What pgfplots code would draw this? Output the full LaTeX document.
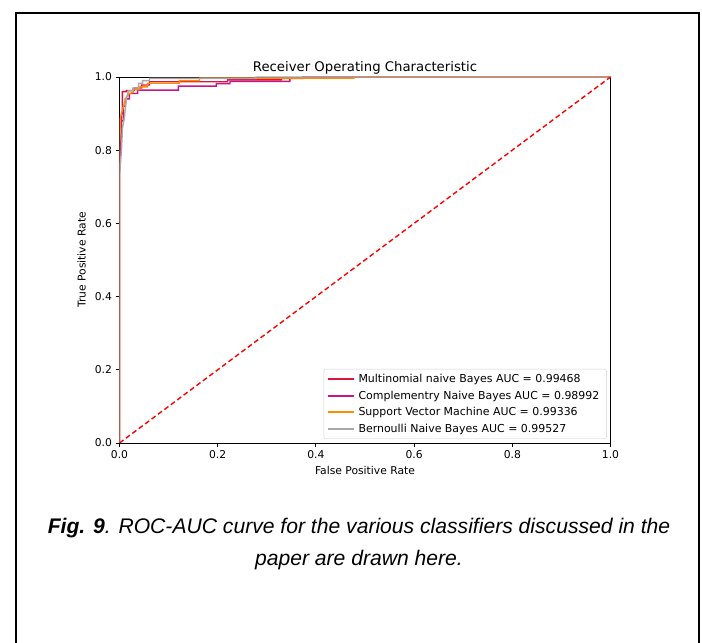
\documentclass[border=0pt]{standalone}
\usepackage{fontspec}
\setmainfont{DejaVu Sans}
\newfontfamily\capfont{Liberation Sans}
\usepackage{pgfplots}
\pgfplotsset{compat=1.18}
\pgfplotsset{legend image code/.code={\draw[#1, line width=1.7bp] (0bp,0bp) -- (26bp,0bp);}}
\begin{document}
\begin{tikzpicture}[x=1bp,y=1bp]
\useasboundingbox (0,0) rectangle (702,643);
\fill[white] (0,0) rectangle (702,643);
\draw[line width=2bp] (15.5,-2) -- (15.5,630) -- (698.5,630) -- (698.5,-2);
\begin{axis}[
  at={(119.5bp,200bp)}, anchor=south west,
  width=491bp, height=366bp, scale only axis,
  xmin=0, xmax=1, ymin=0, ymax=1,
  xtick={0,0.2,0.4,0.6,0.8,1.0}, ytick={0,0.2,0.4,0.6,0.8,1.0},
  xticklabel style={/pgf/number format/.cd,fixed,fixed zerofill,precision=1},
  yticklabel style={/pgf/number format/.cd,fixed,fixed zerofill,precision=1},
  /pgf/number format/assume math mode=true,
  tick align=outside, xtick pos=left, ytick pos=left,
  major tick length=4bp,
  axis line style={line width=0.9bp},
  every tick/.style={black,line width=0.9bp},
  tick label style={font=\fontsize{10.8}{12}\selectfont},
  label style={font=\fontsize{10.8}{12}\selectfont},
  xlabel={False Positive Rate},
  ylabel={True Positive Rate},
  xlabel style={at={(axis description cs:0.5,-0.074)}, anchor=center},
  ylabel style={at={(axis description cs:-0.077,0.5)}, anchor=center},
  title={Receiver Operating Characteristic},
  every axis title/.style={font=\fontsize{13.3}{15}\selectfont, at={(axis description cs:0.5,1.025)}, anchor=center},
  legend cell align=left,
  legend style={at={(axis description cs:0.992,0.011)}, anchor=south east,
    draw=black!18, rounded corners=2bp, font=\fontsize{11}{13}\selectfont,
    row sep=2.8bp, inner sep=3bp,
    nodes={inner xsep=4bp}},
]
\addplot[color={rgb,255:red,220;green,20;blue,60}, line width=1.4bp] coordinates {
(0,0) (0,0.74) (0.004,0.86) (0.004,0.90) (0.006,0.90) (0.006,0.96) (0.014,0.96) (0.014,0.963)
(0.03,0.963) (0.03,0.97) (0.045,0.97) (0.045,0.978) (0.061,0.978) (0.061,0.987) (0.22,0.987)
(0.22,0.992) (0.33,0.992) (0.33,0.996) (0.373,0.996) (0.373,1) (1,1)};
\addlegendentry{Multinomial naive Bayes AUC = 0.99468}
\addplot[color={rgb,255:red,199;green,21;blue,133}, line width=1.4bp] coordinates {
(0,0) (0,0.76) (0.004,0.84) (0.004,0.88) (0.008,0.88) (0.008,0.92) (0.012,0.92) (0.012,0.94)
(0.02,0.94) (0.02,0.955) (0.037,0.955) (0.037,0.964) (0.12,0.964) (0.12,0.975) (0.197,0.975)
(0.197,0.982) (0.225,0.982) (0.225,0.988) (0.347,0.988) (0.347,0.997) (0.477,0.997) (0.477,1) (1,1)};
\addlegendentry{Complementry Naive Bayes AUC = 0.98992}
\addplot[color={rgb,255:red,255;green,140;blue,0}, line width=1.4bp] coordinates {
(0,0) (0,0.82) (0.002,0.89) (0.008,0.92) (0.014,0.945) (0.02,0.955) (0.028,0.958) (0.028,0.965)
(0.04,0.965) (0.04,0.973) (0.057,0.973) (0.057,0.983) (0.122,0.983) (0.122,0.99) (0.163,0.99)
(0.163,0.997) (0.477,0.997) (0.477,1) (1,1)};
\addlegendentry{Support Vector Machine AUC = 0.99336}
\addplot[color={rgb,255:red,169;green,169;blue,169}, line width=1.4bp] coordinates {
(0,0) (0,0.73) (0.004,0.80) (0.006,0.86) (0.01,0.89) (0.014,0.94) (0.018,0.962) (0.027,0.962)
(0.027,0.97) (0.039,0.97) (0.039,0.983) (0.047,0.983) (0.047,0.99) (0.061,0.99) (0.061,0.996)
(0.278,0.996) (0.278,1) (1,1)};
\addlegendentry{Bernoulli Naive Bayes AUC = 0.99527}
\addplot[red, line width=1.4bp, dash pattern=on 5bp off 3bp, forget plot] coordinates {(0,0) (1,1)};
\end{axis}
\node[font=\capfont\fontsize{21.2}{24}\selectfont\itshape] at (359,115) {\textbf{Fig. 9}. ROC-AUC curve for the various classifiers discussed in the};
\node[font=\capfont\fontsize{21.2}{24}\selectfont\itshape] at (359,83) {paper are drawn here.};
\end{tikzpicture}
\end{document}
